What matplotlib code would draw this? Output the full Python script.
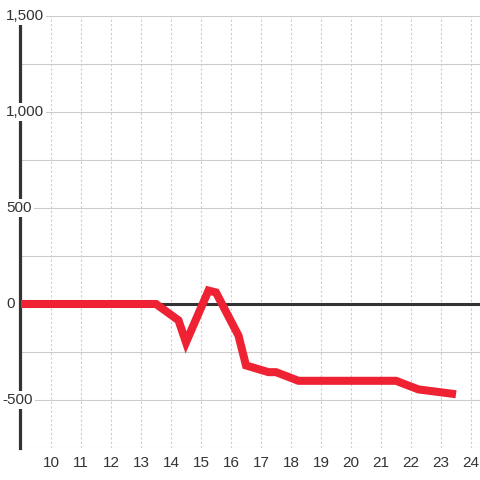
import matplotlib.pyplot as plt
from matplotlib import transforms

# values
years = [9, 13.5, 14.25, 14.5, 15.25, 15.5, 16.25, 16.5, 17.25, 17.5, 18.25, 21.5, 22.25, 22.5, 23.5]
values = [0, 0, -85, -200, 70, 60, -165, -320, -355, -355, -400, -400, -445, -450, -470]
x_ticks = list(range(10, 25))
y_label_vals = [1500, 1000, 500, 0, -500]
y_label_text = ["1,500", "1,000", "500", "0", "-500"]
y_grid = list(range(-750, 1501, 250))

plt.rcParams['font.family'] = ['Liberation Sans', 'DejaVu Sans']

fig = plt.figure(figsize=(4.8, 4.8), dpi=100)
ax = fig.add_axes([20 / 480, 32 / 480, 460 / 480, 432 / 480])

ax.set_xlim(10 - 31 / 30, 24 + 9 / 30)
ax.set_ylim(-750, 1500)

ax.set_yticks(y_grid)
ax.set_xticks(x_ticks)
ax.grid(axis='y', color='#cccccc', linewidth=0.8)
ax.grid(axis='x', color='#cccccc', linewidth=0.8, linestyle=(0, (2, 2)))
ax.set_axisbelow(True)

ax.tick_params(axis='y', length=0, labelleft=False)
ax.tick_params(axis='x', length=0, pad=6, labelsize=11, labelcolor='#333333')

for side in ['top', 'right', 'bottom']:
    ax.spines[side].set_visible(False)
ax.spines['left'].set_color('#333333')
ax.spines['left'].set_linewidth(2.3)

ax.axhline(0, color='#333333', linewidth=2.2, zorder=2)
ax.plot(years, values, color='#ee2233', linewidth=5.8,
        solid_joinstyle='miter', solid_capstyle='butt', zorder=3)

trans = transforms.blended_transform_factory(fig.transFigure, ax.transData)
for val, txt in zip(y_label_vals, y_label_text):
    x0 = 2 if txt.startswith('-') else 6
    ax.text(x0 / 480, val, txt, transform=trans, ha='left', va='center',
            fontsize=11, color='#333333', zorder=5,
            bbox=dict(facecolor='white', edgecolor='none', pad=1.5))

fig.savefig('out.png', dpi=100)
